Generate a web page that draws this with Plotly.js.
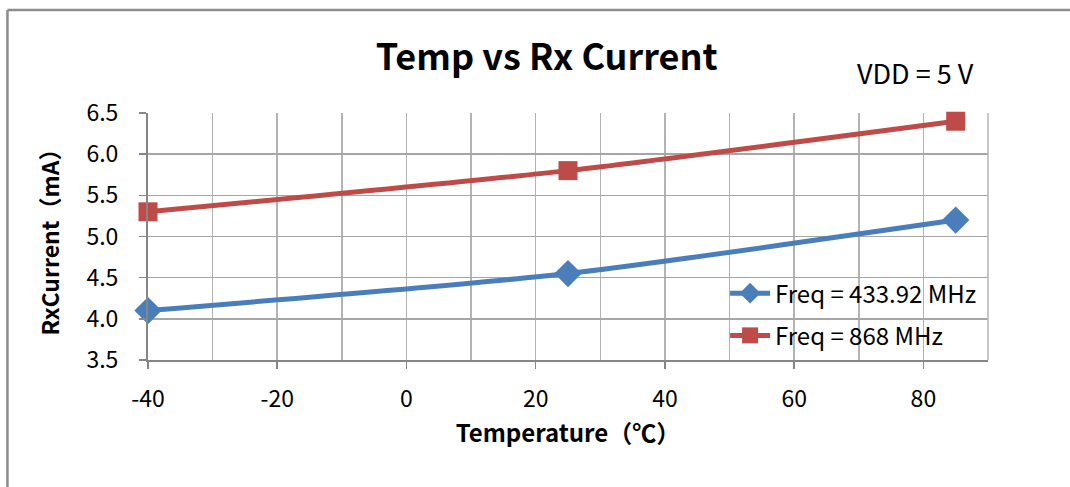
<!DOCTYPE html>
<html>
<head>
<meta charset="utf-8">
<script src="https://cdn.plot.ly/plotly-3.0.1.min.js"></script>
<style>html,body{margin:0;padding:0;background:#fff;}#chart{width:1070px;height:487px;}</style>
</head>
<body>
<div id="chart"></div>
<script>
const temps = [-40, 25, 85];
const current433 = [4.1, 4.55, 5.2];
const current868 = [5.3, 5.8, 6.4];
const seriesNames = ['Freq = 433.92 MHz', 'Freq = 868 MHz'];
const xTicks = [-40, -20, 0, 20, 40, 60, 80];
const yTicks = [3.5, 4.0, 4.5, 5.0, 5.5, 6.0, 6.5];

const FONT = '"Noto Sans CJK SC", "Noto Sans", sans-serif';

const traces = [
  {
    x: temps, y: current433, name: seriesNames[0], type: 'scatter', mode: 'lines+markers',
    line: {color: '#4A7EBB', width: 5, shape: 'spline', smoothing: 0.6},
    marker: {symbol: 'diamond', size: 21, color: '#4A7EBB'},
    legendgroup: 'a', cliponaxis: false
  },
  {
    x: temps, y: current868, name: seriesNames[1], type: 'scatter', mode: 'lines+markers',
    line: {color: '#BE4B48', width: 5, shape: 'spline', smoothing: 0.6},
    marker: {symbol: 'square', size: 19, color: '#BE4B48'},
    legendgroup: 'b', cliponaxis: false
  }
];

const layout = {
  width: 1070, height: 487,
  margin: {l: 148, r: 82, t: 113, b: 127},
  paper_bgcolor: '#fff', plot_bgcolor: '#fff',
  font: {family: FONT, color: '#000', size: 23},
  showlegend: true,
  title: {text: '<b>Temp vs Rx Current</b>', font: {family: FONT, size: 36, color: '#000'},
          x: 0.511, xanchor: 'center', y: 0.882, yanchor: 'middle'},
  xaxis: {
    range: [-40, 90], tickvals: xTicks, ticktext: xTicks.map(String),
    ticks: 'outside', ticklen: 7, tickcolor: '#868686', tickwidth: 1.5,
    ticklabelstandoff: 10,
    showgrid: true, gridcolor: '#B3B3B3', gridwidth: 1.5,
    minor: {dtick: 10, tick0: 0, showgrid: true, gridcolor: '#B3B3B3', gridwidth: 1.5, ticks: ''},
    showline: true, linecolor: '#868686', linewidth: 2,
    zeroline: false, tickfont: {size: 23},
    title: {text: '<b>Temperature（℃）</b>', font: {size: 24}, standoff: 13}
  },
  yaxis: {
    range: [3.5, 6.5], tickvals: yTicks, ticktext: yTicks.map(v => v.toFixed(1)),
    ticks: 'outside', ticklen: 7, tickcolor: '#868686', tickwidth: 1.5,
    ticklabelstandoff: 16,
    showgrid: true, gridcolor: '#A6A6A6', gridwidth: 1.5,
    showline: true, linecolor: '#868686', linewidth: 2,
    zeroline: false, tickfont: {size: 23},
    title: {text: '<b>RxCurrent（mA）</b>', font: {size: 23}, standoff: 20}
  },
  legend: {
    x: 0.687, y: 0.36, xanchor: 'left', yanchor: 'top',
    bgcolor: 'rgba(0,0,0,0)', font: {size: 24, color: '#000'},
    tracegroupgap: 8, itemwidth: 40
  },
  annotations: [
    {text: 'VDD = 5 V', xref: 'paper', yref: 'paper', x: 0.914, y: 1.163,
     xanchor: 'center', yanchor: 'middle', showarrow: false, font: {size: 27, color: '#000'}}
  ],
  shapes: [
    {type: 'line', xref: 'paper', yref: 'paper', x0: -0.1673, x1: 1.1, y0: 1.417, y1: 1.417, line: {color: '#8C8C8C', width: 2.5}},
    {type: 'line', xref: 'paper', yref: 'paper', x0: -0.1673, x1: -0.1673, y0: 1.417, y1: -0.6, line: {color: '#8C8C8C', width: 2.5}},
    {type: 'line', xref: 'paper', yref: 'paper', x0: 1.0, x1: 1.0, y0: 0, y1: 1, line: {color: '#B3B3B3', width: 1.5}}
  ]
};

Plotly.newPlot('chart', traces, layout, {displayModeBar: false, staticPlot: true});
</script>
</body>
</html>
